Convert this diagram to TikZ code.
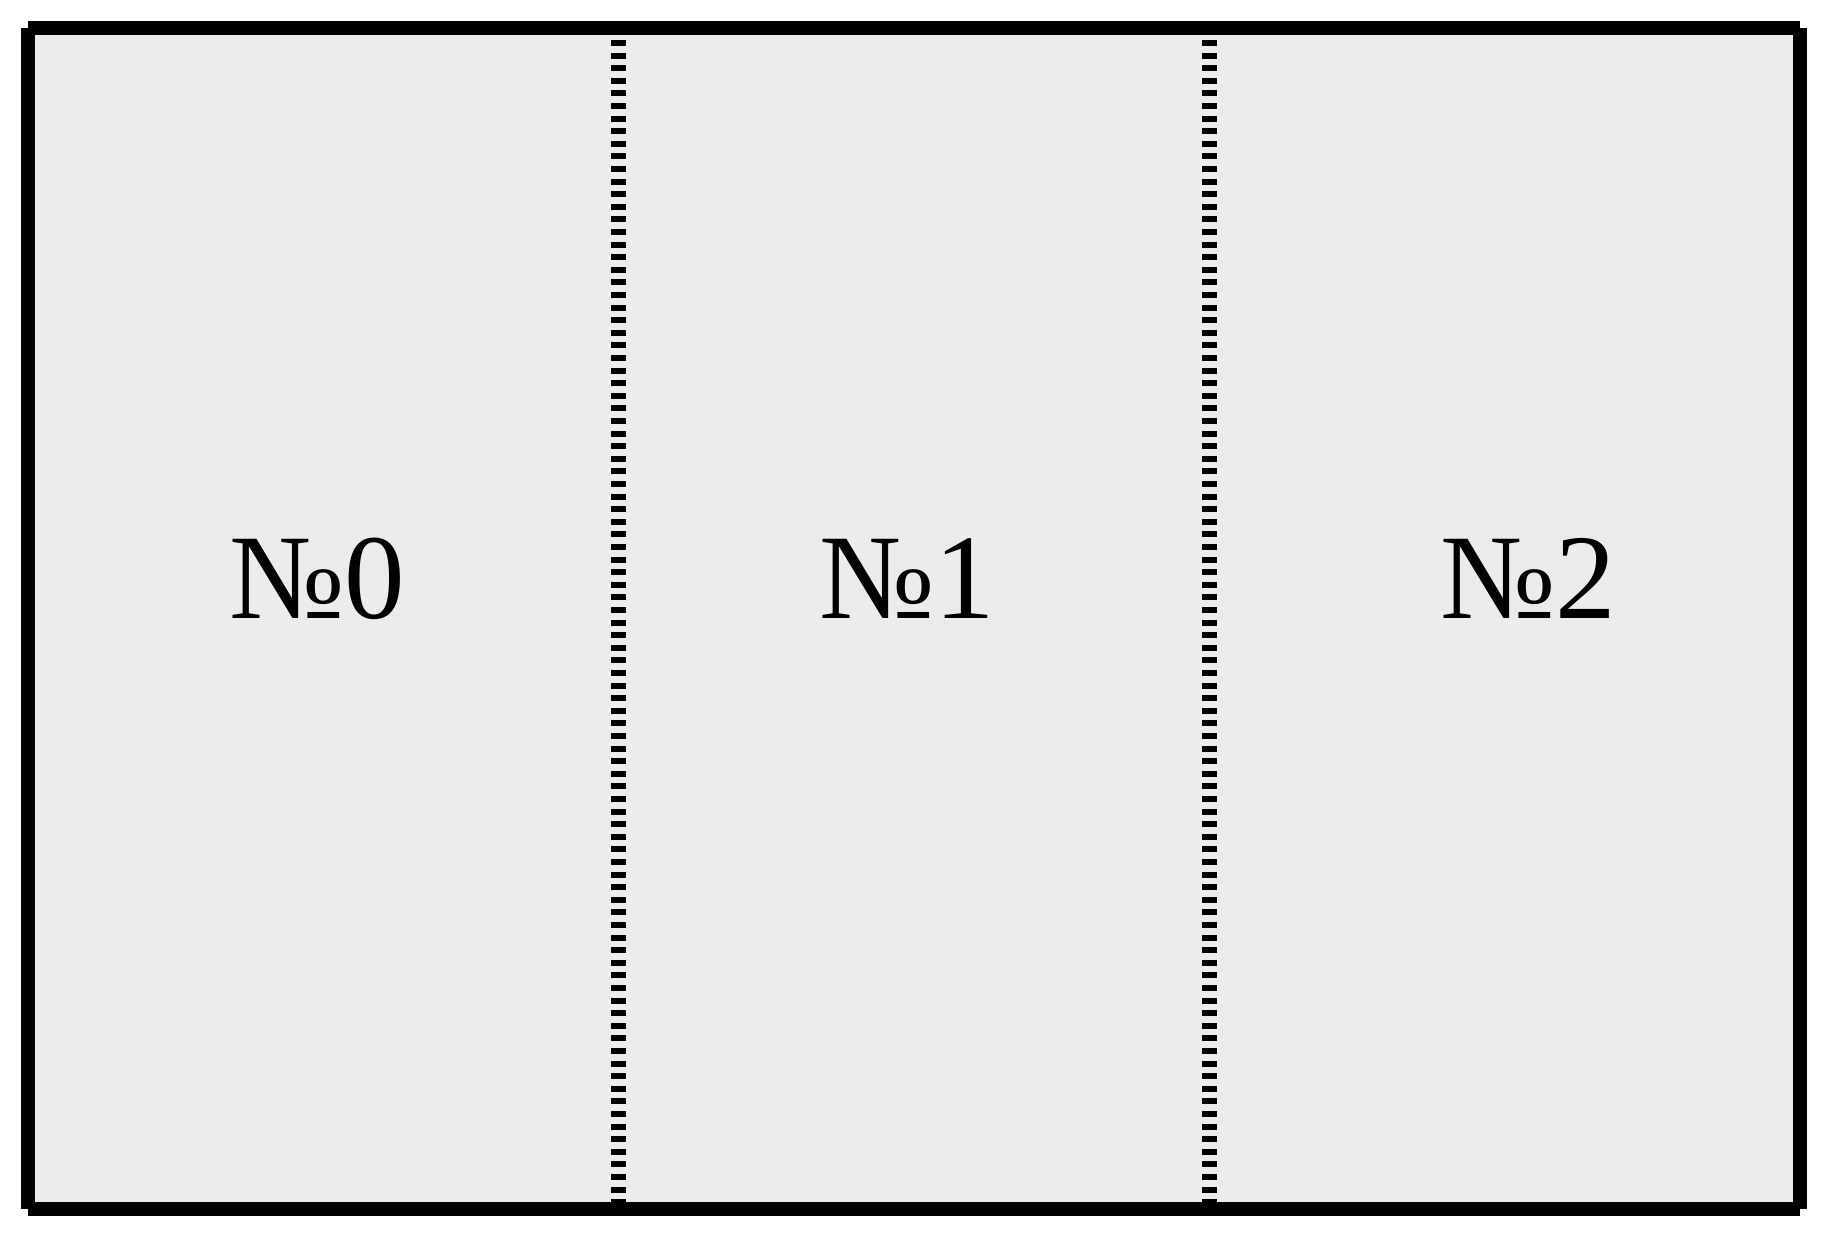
\documentclass[tikz,border=0pt]{standalone}
\usepackage{fontspec}
\setmainfont{Liberation Serif}
\definecolor{panelgray}{HTML}{ECECEC}
\tikzset{
  frameline/.style={line width=14pt, line cap=butt},
  foldline/.style={line width=15pt, line cap=butt, dash pattern=on 6pt off 6.6pt, dash phase=7.6pt},
  label/.style={anchor=base, inner sep=0pt, font=\fontsize{121}{140}\selectfont}
}
\begin{document}
\begin{tikzpicture}[x=1pt,y=-1pt]
\useasboundingbox (0,0) rectangle (1828,1237);
\fill[panelgray] (28,28) rectangle (1800,1209);
\coordinate (tl) at (28,28);
\coordinate (tr) at (1800,28);
\coordinate (bl) at (28,1209);
\coordinate (br) at (1800,1209);
\draw[frameline] (tl) -- (tr);
\draw[frameline] (bl) -- (br);
\draw[frameline] (tl) -- (bl);
\draw[frameline] (tr) -- (br);
\coordinate (f1t) at (618.5,35);
\coordinate (f1b) at (618.5,1202);
\coordinate (f2t) at (1209,35);
\coordinate (f2b) at (1209,1202);
\draw[foldline] (f1t) -- (f1b);
\draw[foldline] (f2t) -- (f2b);
\node[label] (p0) at (317,618) {№0};
\node[label] (p1) at (907,618) {№1};
\node[label] (p2) at (1528,618) {№2};
\end{tikzpicture}
\end{document}
